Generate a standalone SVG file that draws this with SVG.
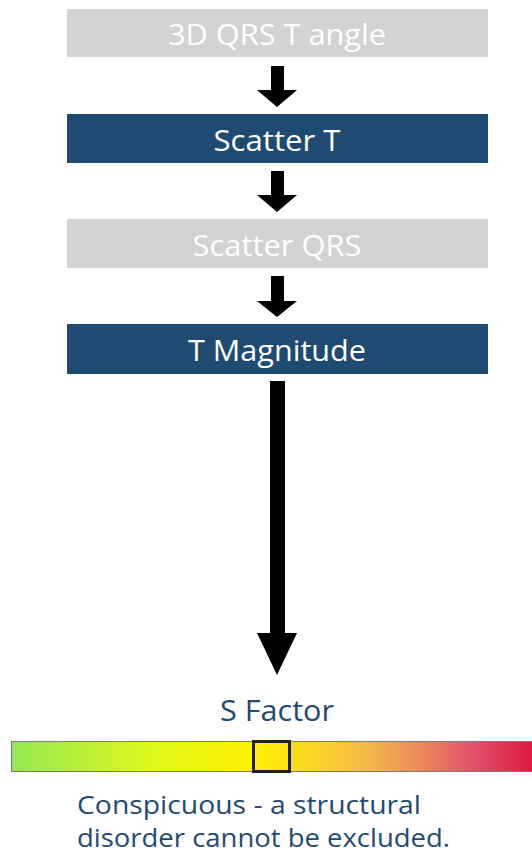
<svg xmlns="http://www.w3.org/2000/svg" width="532" height="856" viewBox="0 0 532 856">
<style>
.box-gray{fill:#d3d3d3}
.box-blue{fill:#1f4a72}
.lbl{font-family:"Open Sans","DejaVu Sans",sans-serif;font-size:29px;fill:#ffffff;text-anchor:middle}
.dark{font-family:"Open Sans","DejaVu Sans",sans-serif;fill:#1f4a72}
.arrow{fill:#000000}
</style>
<defs>
<linearGradient id="grad" x1="0" y1="0" x2="1" y2="0">
<stop offset="0" stop-color="#93e852"/>
<stop offset="0.27" stop-color="#dff81a"/>
<stop offset="0.46" stop-color="#fff000"/>
<stop offset="0.58" stop-color="#fad425"/>
<stop offset="0.68" stop-color="#f4b84a"/>
<stop offset="0.77" stop-color="#ec8e5a"/>
<stop offset="0.88" stop-color="#e2506c"/>
<stop offset="1" stop-color="#dc163e"/>
</linearGradient>
</defs>
<g id="node-angle">
<rect class="box-gray" x="67" y="9" width="421" height="48"/>
<text class="lbl" x="277" y="45" textLength="218" lengthAdjust="spacingAndGlyphs">3D QRS T angle</text>
</g>
<g id="node-scatter-t">
<rect class="box-blue" x="67" y="114" width="421" height="49"/>
<text class="lbl" x="277" y="151" textLength="127" lengthAdjust="spacingAndGlyphs">Scatter T</text>
</g>
<g id="node-scatter-qrs">
<rect class="box-gray" x="67" y="219" width="421" height="49"/>
<text class="lbl" x="277" y="256" textLength="169" lengthAdjust="spacingAndGlyphs">Scatter QRS</text>
</g>
<g id="node-t-magnitude">
<rect class="box-blue" x="67" y="324" width="421" height="50"/>
<text class="lbl" x="277" y="361" textLength="178" lengthAdjust="spacingAndGlyphs">T Magnitude</text>
</g>
<g id="connectors">
<polygon class="arrow" points="271,66 284,66 284,90 297,90 277,107 257,90 271,90"/>
<polygon class="arrow" points="271,171 284,171 284,195 297,195 277,212 257,195 271,195"/>
<polygon class="arrow" points="271,276 284,276 284,301 297,301 277,317 257,301 271,301"/>
<polygon class="arrow" points="270,381 285,381 285,633 297,633 277,675 257,633 270,633"/>
</g>
<g id="s-factor">
<text class="dark" x="277" y="721" font-size="29" text-anchor="middle" textLength="114" lengthAdjust="spacingAndGlyphs">S Factor</text>
<rect x="11.5" y="741.5" width="525" height="30" fill="url(#grad)" stroke="#7a7a7a" stroke-width="1"/>
<rect x="253.5" y="741.5" width="36" height="30" fill="none" stroke="#222222" stroke-width="3"/>
<text class="dark" x="77" y="814" font-size="26" textLength="344" lengthAdjust="spacingAndGlyphs">Conspicuous - a structural</text>
<text class="dark" x="77" y="847" font-size="26" textLength="373" lengthAdjust="spacingAndGlyphs">disorder cannot be excluded.</text>
</g>
</svg>
